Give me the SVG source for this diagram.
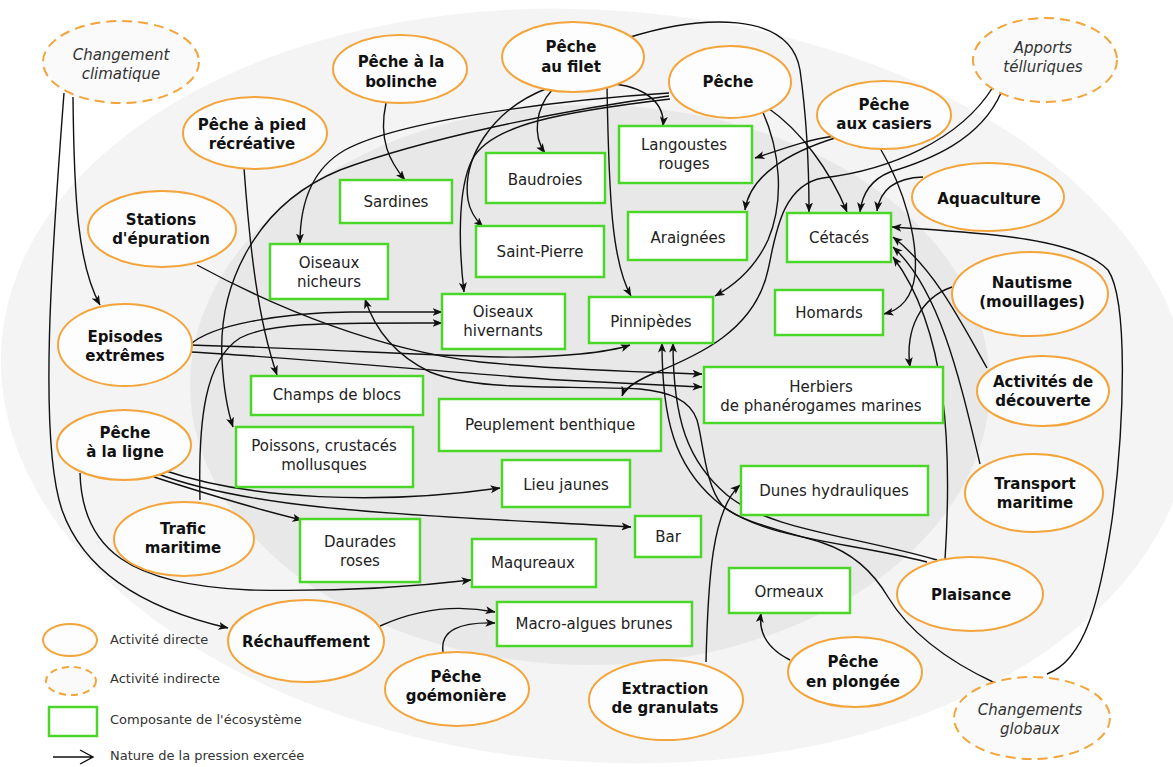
<svg xmlns="http://www.w3.org/2000/svg" width="1173" height="767" viewBox="0 0 1173 767">
  <style>
    .bold { font-family: "DejaVu Sans", "Liberation Sans", sans-serif; font-size: 15px; font-weight: bold; fill: #111; text-anchor: middle; }
    .ital { font-family: "DejaVu Sans", "Liberation Sans", sans-serif; font-size: 15px; font-style: italic; fill: #333; text-anchor: middle; }
    .box  { font-family: "DejaVu Sans", "Liberation Sans", sans-serif; font-size: 15px; fill: #222; text-anchor: middle; }
    .leg  { font-family: "DejaVu Sans", "Liberation Sans", sans-serif; font-size: 13px; fill: #333; }
    .act  { fill: #fdfdfd; stroke: #f3a43a; stroke-width: 2; }
    .ind  { fill: #fafafa; stroke: #f3a43a; stroke-width: 2; stroke-dasharray: 10 6; }
    .eco  { fill: #ffffff; stroke: #4bd62a; stroke-width: 2.5; }
    .con path { fill: none; stroke: #111; stroke-width: 1.4; marker-end: url(#ah); }
  </style>
  <defs>
    <marker id="ah" viewBox="0 0 10 8" refX="9.5" refY="4" markerWidth="10" markerHeight="8" markerUnits="userSpaceOnUse" orient="auto">
      <path d="M0,0 L10,4 L0,8 L2.5,4 z" fill="#111"/>
    </marker>
  </defs>

  <!-- background zones -->
  <rect width="1173" height="767" fill="#ffffff"/>
  <ellipse cx="596" cy="386" rx="596" ry="376" fill="#f4f4f4" transform="rotate(4 596 386)"/>
  <ellipse cx="590" cy="385" rx="400" ry="280" fill="#e8e8e8"/>

  <!-- pressures -->
  <g id="connectors" class="con">
    <path d="M 64,93 C 52,250 38,440 62,510 C 85,575 150,610 228,628"/>
    <path d="M 73,97 C 74,200 78,265 100,305"/>
    <path d="M 386,103 C 378,140 390,162 405,180"/>
    <path d="M 552,90 C 536,108 532,135 545,153"/>
    <path d="M 548,88 C 490,110 462,160 468,200 C 470,212 476,220 483,227"/>
    <path d="M 615,84 C 648,88 665,105 663,126"/>
    <path d="M 607,87 C 609,200 612,262 631,296"/>
    <path d="M 627,38 C 700,15 790,10 800,70 C 807,120 809,170 809,212"/>
    <path d="M 669,93 C 560,100 400,120 345,150 C 310,170 300,205 300,243"/>
    <path d="M 669,96 C 560,110 420,140 340,170 C 255,205 218,285 222,360 C 224,395 228,412 233,427"/>
    <path d="M 670,99 C 560,112 490,125 472,160 C 457,190 459,250 464,292"/>
    <path d="M 762,110 C 780,150 785,200 768,240 C 755,268 735,285 715,296"/>
    <path d="M 768,108 C 800,130 830,170 847,212"/>
    <path d="M 835,136 C 805,140 780,150 755,158"/>
    <path d="M 835,138 C 790,152 750,175 745,210"/>
    <path d="M 880,148 C 905,190 918,240 915,275 C 912,298 900,310 884,314"/>
    <path d="M 993,87 C 960,140 890,170 823,178 C 780,185 775,240 768,270 C 755,330 700,355 650,375 C 635,382 625,388 622,396"/>
    <path d="M 1001,93 C 980,140 930,160 890,172 C 870,180 862,195 860,212"/>
    <path d="M 923,177 C 895,178 880,190 877,211"/>
    <path d="M 1047,674 C 1085,660 1100,600 1112,520 C 1125,420 1128,300 1108,270 C 1075,235 960,232 892,227"/>
    <path d="M 987,368 C 960,320 935,270 893,237"/>
    <path d="M 980,464 C 960,380 940,290 893,247"/>
    <path d="M 945,560 C 952,450 948,330 893,257"/>
    <path d="M 927,562 C 840,540 760,540 715,500 C 675,465 662,420 662,343"/>
    <path d="M 937,560 C 850,535 770,530 727,495 C 688,462 673,420 673,343"/>
    <path d="M 995,683 C 935,655 905,625 888,597 C 872,570 850,552 823,543 C 780,530 735,520 722,505 C 705,485 703,440 697,420 C 690,400 670,392 640,389 C 560,385 480,392 430,372 C 395,355 375,330 365,299"/>
    <path d="M 197,265 C 280,310 380,350 480,362 C 560,370 640,372 702,374"/>
    <path d="M 190,352 C 300,358 480,375 560,380 C 620,383 660,385 702,387"/>
    <path d="M 190,345 C 300,348 420,355 500,357 C 560,358 610,352 630,345"/>
    <path d="M 190,345 C 210,325 280,313 350,312 L 442,312"/>
    <path d="M 200,500 C 198,420 205,360 240,338 C 270,322 330,323 442,323"/>
    <path d="M 244,168 C 250,250 258,320 277,375"/>
    <path d="M 163,470 C 250,500 380,505 500,488"/>
    <path d="M 158,474 C 260,512 420,515 631,527"/>
    <path d="M 154,477 C 210,495 260,510 302,520"/>
    <path d="M 80,473 C 82,550 130,585 250,590 C 350,592 420,586 471,580"/>
    <path d="M 380,626 C 420,608 460,605 495,612"/>
    <path d="M 443,652 C 440,630 460,622 495,623"/>
    <path d="M 706,662 C 708,580 712,510 740,485"/>
    <path d="M 790,660 C 770,650 758,635 761,613"/>
    <path d="M 952,287 C 920,298 905,330 910,367"/>
  </g>

  <!-- activities -->
  <g id="n-changement-climatique"><ellipse class="ind" cx="121" cy="62" rx="78" ry="41"/><text class="ital" x="121" y="60">Changement</text><text class="ital" x="121" y="79">climatique</text></g>
  <g id="n-bolinche"><ellipse class="act" cx="400" cy="69" rx="67" ry="34"/><text class="bold" x="401" y="67">Pêche à la</text><text class="bold" x="401" y="87">bolinche</text></g>
  <g id="n-filet"><ellipse class="act" cx="573" cy="57" rx="71" ry="35"/><text class="bold" x="571" y="52">Pêche</text><text class="bold" x="571" y="72">au filet</text></g>
  <g id="n-peche"><ellipse class="act" cx="730" cy="82" rx="61" ry="36"/><text class="bold" x="728" y="87">Pêche</text></g>
  <g id="n-casiers"><ellipse class="act" cx="884" cy="115" rx="67" ry="34"/><text class="bold" x="884" y="110">Pêche</text><text class="bold" x="884" y="129">aux casiers</text></g>
  <g id="n-apports"><ellipse class="ind" cx="1045" cy="60" rx="72" ry="42"/><text class="ital" x="1043" y="53">Apports</text><text class="ital" x="1043" y="72">télluriques</text></g>
  <g id="n-pied"><ellipse class="act" cx="255" cy="133" rx="72" ry="36"/><text class="bold" x="252" y="130">Pêche à pied</text><text class="bold" x="252" y="149">récréative</text></g>
  <g id="n-stations"><ellipse class="act" cx="162" cy="229" rx="74" ry="38"/><text class="bold" x="161" y="225">Stations</text><text class="bold" x="161" y="244">d'épuration</text></g>
  <g id="n-aquaculture"><ellipse class="act" cx="988" cy="197" rx="76" ry="34"/><text class="bold" x="989" y="204">Aquaculture</text></g>
  <g id="n-episodes"><ellipse class="act" cx="125" cy="345" rx="67" ry="41"/><text class="bold" x="125" y="342">Episodes</text><text class="bold" x="125" y="361">extrêmes</text></g>
  <g id="n-nautisme"><ellipse class="act" cx="1030" cy="294" rx="78" ry="42"/><text class="bold" x="1032" y="288">Nautisme</text><text class="bold" x="1032" y="307">(mouillages)</text></g>
  <g id="n-decouverte"><ellipse class="act" cx="1043" cy="391" rx="66" ry="35"/><text class="bold" x="1043" y="387">Activités de</text><text class="bold" x="1043" y="406">découverte</text></g>
  <g id="n-ligne"><ellipse class="act" cx="124" cy="445" rx="67" ry="35"/><text class="bold" x="125" y="438">Pêche</text><text class="bold" x="125" y="457">à la ligne</text></g>
  <g id="n-transport"><ellipse class="act" cx="1034" cy="493" rx="69" ry="39"/><text class="bold" x="1035" y="489">Transport</text><text class="bold" x="1035" y="508">maritime</text></g>
  <g id="n-trafic"><ellipse class="act" cx="184" cy="539" rx="70" ry="37"/><text class="bold" x="183" y="534">Trafic</text><text class="bold" x="183" y="553">maritime</text></g>
  <g id="n-rechauffement"><ellipse class="act" cx="306" cy="641" rx="78" ry="41"/><text class="bold" x="306" y="647">Réchauffement</text></g>
  <g id="n-plaisance"><ellipse class="act" cx="970" cy="594" rx="73" ry="37"/><text class="bold" x="971" y="600">Plaisance</text></g>
  <g id="n-goemoniere"><ellipse class="act" cx="457" cy="689" rx="72" ry="37"/><text class="bold" x="456" y="682">Pêche</text><text class="bold" x="456" y="701">goémonière</text></g>
  <g id="n-extraction"><ellipse class="act" cx="666" cy="700" rx="77" ry="40"/><text class="bold" x="665" y="694">Extraction</text><text class="bold" x="665" y="713">de granulats</text></g>
  <g id="n-plongee"><ellipse class="act" cx="855" cy="672" rx="67" ry="35"/><text class="bold" x="853" y="667">Pêche</text><text class="bold" x="853" y="687">en plongée</text></g>
  <g id="n-changements-globaux"><ellipse class="ind" cx="1032" cy="718" rx="78" ry="41"/><text class="ital" x="1030" y="715">Changements</text><text class="ital" x="1030" y="734">globaux</text></g>

  <!-- ecosystem components -->
  <g id="e-sardines"><rect class="eco" x="340" y="180" width="112" height="43"/><text class="box" x="396" y="207">Sardines</text></g>
  <g id="e-baudroies"><rect class="eco" x="486" y="153" width="119" height="50"/><text class="box" x="545" y="185">Baudroies</text></g>
  <g id="e-langoustes"><rect class="eco" x="619" y="126" width="133" height="57"/><text class="box" x="684" y="150">Langoustes</text><text class="box" x="684" y="169">rouges</text></g>
  <g id="e-araignees"><rect class="eco" x="628" y="212" width="119" height="48"/><text class="box" x="688" y="243">Araignées</text></g>
  <g id="e-saint-pierre"><rect class="eco" x="476" y="226" width="128" height="51"/><text class="box" x="540" y="257">Saint-Pierre</text></g>
  <g id="e-cetaces"><rect class="eco" x="787" y="213" width="104" height="49"/><text class="box" x="839" y="243">Cétacés</text></g>
  <g id="e-nicheurs"><rect class="eco" x="270" y="244" width="118" height="55"/><text class="box" x="329" y="268">Oiseaux</text><text class="box" x="329" y="287">nicheurs</text></g>
  <g id="e-hivernants"><rect class="eco" x="442" y="294" width="123" height="55"/><text class="box" x="503" y="317">Oiseaux</text><text class="box" x="503" y="336">hivernants</text></g>
  <g id="e-pinnipedes"><rect class="eco" x="589" y="297" width="124" height="46"/><text class="box" x="651" y="327">Pinnipèdes</text></g>
  <g id="e-homards"><rect class="eco" x="775" y="290" width="108" height="45"/><text class="box" x="829" y="318">Homards</text></g>
  <g id="e-champs"><rect class="eco" x="251" y="376" width="172" height="39"/><text class="box" x="337" y="400">Champs de blocs</text></g>
  <g id="e-herbiers"><rect class="eco" x="704" y="367" width="239" height="56"/><text class="box" x="821" y="392">Herbiers</text><text class="box" x="821" y="411">de phanérogames marines</text></g>
  <g id="e-benthique"><rect class="eco" x="439" y="399" width="222" height="52"/><text class="box" x="550" y="430">Peuplement benthique</text></g>
  <g id="e-poissons"><rect class="eco" x="236" y="427" width="177" height="60"/><text class="box" x="324" y="451">Poissons, crustacés</text><text class="box" x="324" y="470">mollusques</text></g>
  <g id="e-lieu"><rect class="eco" x="502" y="460" width="128" height="47"/><text class="box" x="566" y="490">Lieu jaunes</text></g>
  <g id="e-dunes"><rect class="eco" x="741" y="466" width="187" height="49"/><text class="box" x="834" y="496">Dunes hydrauliques</text></g>
  <g id="e-daurades"><rect class="eco" x="300" y="519" width="120" height="63"/><text class="box" x="360" y="547">Daurades</text><text class="box" x="360" y="566">roses</text></g>
  <g id="e-bar"><rect class="eco" x="635" y="516" width="66" height="41"/><text class="box" x="668" y="542">Bar</text></g>
  <g id="e-maqureaux"><rect class="eco" x="472" y="539" width="124" height="48"/><text class="box" x="533" y="568">Maqureaux</text></g>
  <g id="e-macroalgues"><rect class="eco" x="497" y="602" width="195" height="44"/><text class="box" x="594" y="629">Macro-algues brunes</text></g>
  <g id="e-ormeaux"><rect class="eco" x="729" y="568" width="121" height="45"/><text class="box" x="789" y="597">Ormeaux</text></g>

  <!-- key -->
  <g id="legend">
    <ellipse class="act" cx="70" cy="640" rx="27" ry="16"/>
    <text class="leg" x="110" y="644">Activité directe</text>
    <ellipse class="ind" cx="71" cy="681" rx="25" ry="14" style="stroke-dasharray: 7 5"/>
    <text class="leg" x="110" y="683">Activité indirecte</text>
    <rect class="eco" x="49" y="707" width="48" height="29"/>
    <text class="leg" x="110" y="724">Composante de l'écosystème</text>
    <path d="M 53,757 L 93,757 M 80,750 L 93,757 L 80,764" fill="none" stroke="#111" stroke-width="1.4"/>
    <text class="leg" x="110" y="760">Nature de la pression exercée</text>
  </g>
</svg>
